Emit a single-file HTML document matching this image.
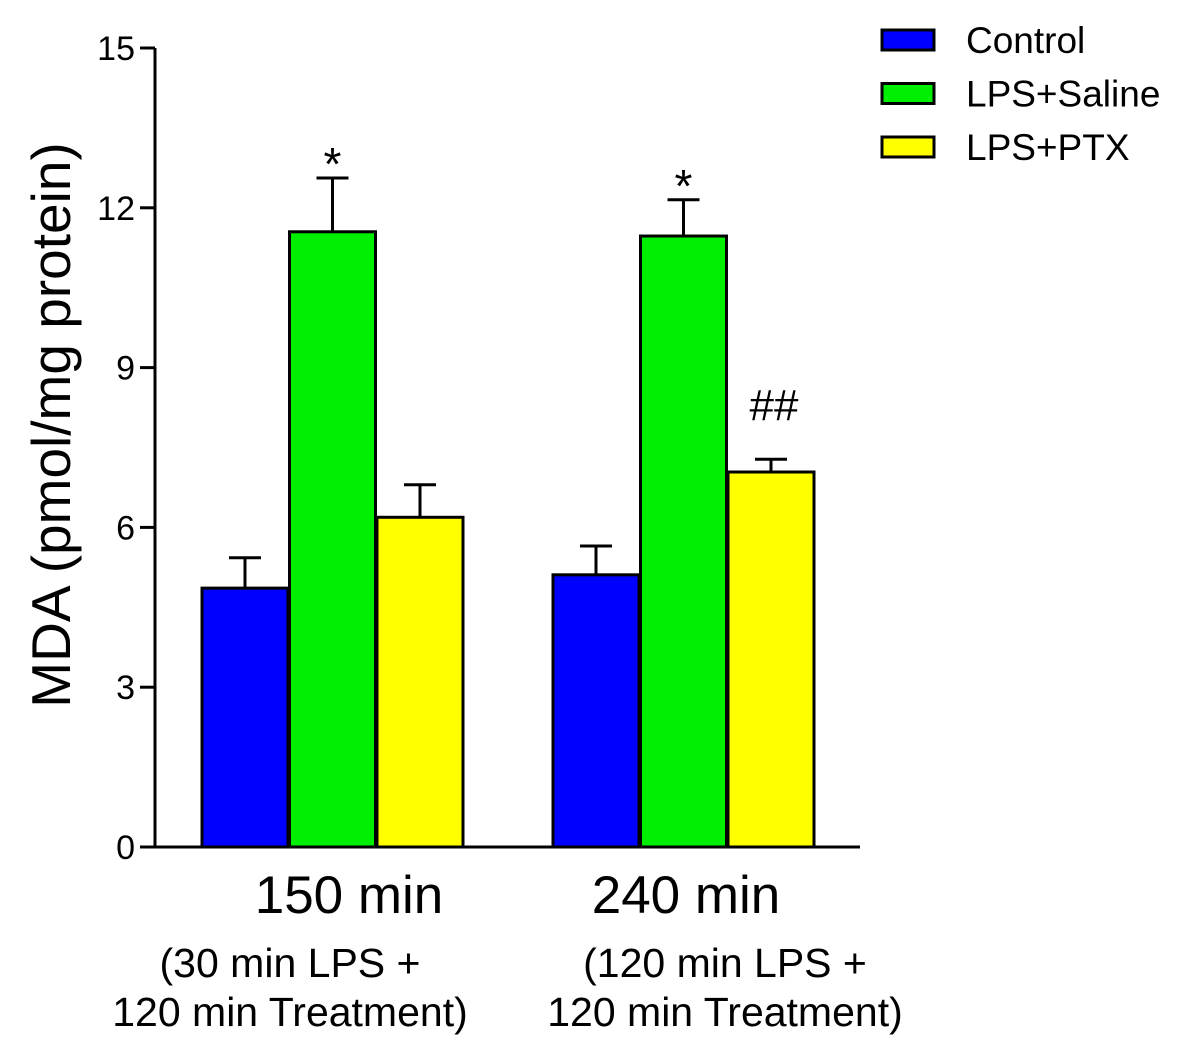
<!DOCTYPE html>
<html><head><meta charset="utf-8">
<style>
html,body{margin:0;padding:0;background:#fff;}
svg{display:block;font-family:"Liberation Sans",Arial,sans-serif;}
</style></head>
<body>
<svg id="chart" width="1185" height="1055" viewBox="0 0 1185 1055">
<g id="axes"></g>
<g id="bars"></g>
<g id="legend"></g>
</svg>
<script>
const groups = ["150 min", "240 min"];
const groupSub1 = ["(30 min LPS +", "(120 min LPS +"];
const groupSub2 = ["120 min Treatment)", "120 min Treatment)"];
const seriesNames = ["Control", "LPS+Saline", "LPS+PTX"];
const controlVals = [4.86, 5.11];
const salineVals = [11.55, 11.47];
const ptxVals = [6.19, 7.04];
const controlErr = [0.57, 0.54];
const salineErr = [1.01, 0.68];
const ptxErr = [0.61, 0.24];
const annotations = [["", "*", ""], ["", "*", "##"]];
const yTicks = [0, 3, 6, 9, 12, 15];

const colors = ["#0000ff", "#00ee00", "#ffff00"];
const NS = "http://www.w3.org/2000/svg";
const y0 = 847, y15 = 48;
const yScale = v => y0 - (v / 15) * (y0 - y15);
const groupStart = [202, 553];
const barW = 86, barStep = 87.5;
const xBar = (g, s) => groupStart[g] + s * barStep;
const labelCx = [349, 686];
const subCx = [290, 725];

function mk(tag, attrs, parent, text) {
  const e = document.createElementNS(NS, tag);
  for (const k in attrs) e.setAttribute(k, attrs[k]);
  if (text !== undefined) e.textContent = text;
  parent.appendChild(e);
  return e;
}
const axes = document.getElementById("axes");
const bars = document.getElementById("bars");
const legend = document.getElementById("legend");

let e = mk("line", {x1:155, y1:y15, x2:155, y2:y0, stroke:"#000", "stroke-width":3}, axes);


e = mk("line", {x1:155, y1:y0, x2:860, y2:y0, stroke:"#000", "stroke-width":3}, axes);


yTicks.forEach(t => {
  const y = yScale(t);
  const tk = mk("line", {x1:140, y1:y, x2:155, y2:y, stroke:"#000", "stroke-width":3}, axes);
  
  
  const lb = mk("text", {x:135, y:y+12, "text-anchor":"end", "font-size":34}, axes, String(t));
  
  
});
e = mk("text", {x:0, y:0, transform:"translate(70,425) rotate(-90)", "text-anchor":"middle", "font-size":55}, axes, "MDA (pmol/mg protein)");



const vals = [controlVals, salineVals, ptxVals];
const errs = [controlErr, salineErr, ptxErr];
groups.forEach((gname, g) => {
  let t = mk("text", {x:labelCx[g], y:913, "text-anchor":"middle", "font-size":53}, axes, gname);
  
  
  t = mk("text", {x:subCx[g], y:977, "text-anchor":"middle", "font-size":41}, axes, groupSub1[g]);
  
  
  t = mk("text", {x:subCx[g], y:1026, "text-anchor":"middle", "font-size":41}, axes, groupSub2[g]);
  
  
  for (let s = 0; s < 3; s++) {
    const v = vals[s][g], er = errs[s][g];
    const x = xBar(g, s), yt = yScale(v), ye = yScale(v + er), mx = x + barW/2;
    const eb = mk("path", {d:`M${mx},${yt} V${ye} M${mx-16},${ye} H${mx+16}`, stroke:"#000", "stroke-width":3, fill:"none"}, bars);
    
    
    const r = mk("rect", {x:x, y:yt, width:barW, height:y0-yt, fill:colors[s], stroke:"#000", "stroke-width":3}, bars);
    
    
    const a = annotations[g][s];
    if (a) {
      const at = mk("text", {x:mx + (a === "*" ? 0 : 3), y:ye - (a === "*" ? -2 : 39), "text-anchor":"middle", "font-size": a === "*" ? 46 : 44}, bars, a);
      
      
    }
  }
});

seriesNames.forEach((n, s) => {
  const y = 30 + s * 53.5;
  const r = mk("rect", {x:882, y:y, width:52, height:20, fill:colors[s], stroke:"#000", "stroke-width":3}, legend);
  
  
  const t = mk("text", {x:966, y:y+23, "font-size":37}, legend, n);
  
  
});
</script>
</body></html>
